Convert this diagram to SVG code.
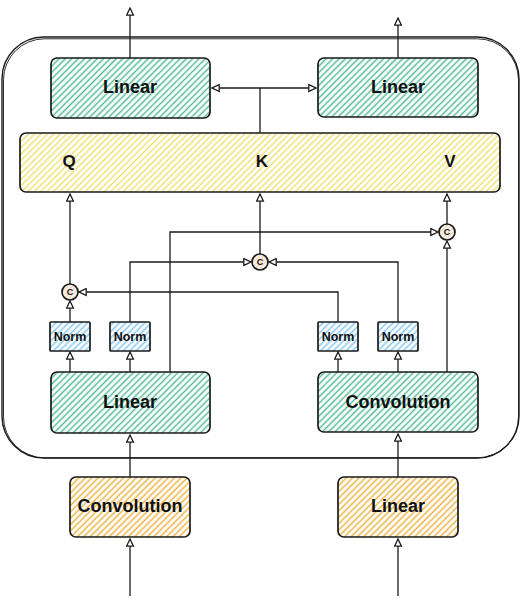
<svg xmlns="http://www.w3.org/2000/svg" width="521" height="606" viewBox="0 0 521 606">
<style>
.box{stroke:#1a1a1a;stroke-width:1.7;}
.lbl{font-family:"Liberation Sans",Arial,sans-serif;font-weight:bold;fill:#111;text-anchor:middle;dominant-baseline:central;}
.big{font-size:18px;}
.qkv{font-size:17px;}
.sm{font-size:12.5px;}
.xs{font-size:9px;}
.wire{fill:none;stroke:#1a1a1a;stroke-width:1.3;}
</style>
<defs>
<pattern id="hg" patternUnits="userSpaceOnUse" width="4.5" height="4.5" patternTransform="rotate(-45)"><rect width="4.5" height="4.5" fill="#fff"/><line x1="0" y1="2.25" x2="4.5" y2="2.25" stroke="#55bc98" stroke-width="1.5"/></pattern>
<pattern id="hy" patternUnits="userSpaceOnUse" width="4.5" height="4.5" patternTransform="rotate(-45)"><rect width="4.5" height="4.5" fill="#fff"/><line x1="0" y1="2.25" x2="4.5" y2="2.25" stroke="#eee06a" stroke-width="1.4"/></pattern>
<pattern id="ho" patternUnits="userSpaceOnUse" width="4.5" height="4.5" patternTransform="rotate(-45)"><rect width="4.5" height="4.5" fill="#fff"/><line x1="0" y1="2.25" x2="4.5" y2="2.25" stroke="#eeb444" stroke-width="1.5"/></pattern>
<pattern id="hb" patternUnits="userSpaceOnUse" width="4.5" height="4.5" patternTransform="rotate(-45)"><rect width="4.5" height="4.5" fill="#fff"/><line x1="0" y1="2.25" x2="4.5" y2="2.25" stroke="#84c8ee" stroke-width="1.5"/></pattern>
<pattern id="hc" patternUnits="userSpaceOnUse" width="3" height="3" patternTransform="rotate(-45)"><rect width="3" height="3" fill="#fff"/><line x1="0" y1="1.5" x2="3" y2="1.5" stroke="#edd2b0" stroke-width="1.4"/></pattern>
<marker id="arr" viewBox="0 0 10 10" refX="9" refY="5" markerWidth="9" markerHeight="9" markerUnits="userSpaceOnUse" orient="auto-start-reverse"><path d="M1,1.2 L9,5 L1,8.8 Z" fill="#fff" stroke="#1a1a1a" stroke-width="1.4"/></marker>
</defs>

<g id="outer">
<rect x="2" y="37" width="517" height="421" rx="42" ry="42" fill="none" stroke="#1a1a1a" stroke-width="1.4"/>
<rect x="3.5" y="38.8" width="515" height="419" rx="41" ry="41" fill="none" stroke="#1a1a1a" stroke-width="0.9"/>
</g>

<g id="connectors">
<path class="wire" d="M130,596 V539" marker-end="url(#arr)"/>
<path class="wire" d="M130,477 V435" marker-end="url(#arr)"/>
<path class="wire" d="M398,596 V539" marker-end="url(#arr)"/>
<path class="wire" d="M398,477 V434" marker-end="url(#arr)"/>
<path class="wire" d="M70,372 V352" marker-end="url(#arr)"/>
<path class="wire" d="M130,372 V352" marker-end="url(#arr)"/>
<path class="wire" d="M338,372 V352" marker-end="url(#arr)"/>
<path class="wire" d="M398,372 V352" marker-end="url(#arr)"/>
<path class="wire" d="M70,322 V301" marker-end="url(#arr)"/>
<path class="wire" d="M130,322 V262 H251" marker-end="url(#arr)"/>
<path class="wire" d="M170,372 V232 H438" marker-end="url(#arr)"/>
<path class="wire" d="M338,322 V292 H79" marker-end="url(#arr)"/>
<path class="wire" d="M398,322 V262 H269" marker-end="url(#arr)"/>
<path class="wire" d="M447,372 V241" marker-end="url(#arr)"/>
<path class="wire" d="M70,284 V194" marker-end="url(#arr)"/>
<path class="wire" d="M260,254 V194" marker-end="url(#arr)"/>
<path class="wire" d="M447,224 V194" marker-end="url(#arr)"/>
<path class="wire" d="M260,133 V88"/>
<path class="wire" d="M260,88 H212" marker-end="url(#arr)"/>
<path class="wire" d="M260,88 H316" marker-end="url(#arr)"/>
<path class="wire" d="M130,58 V8" marker-end="url(#arr)"/>
<path class="wire" d="M398,58 V18" marker-end="url(#arr)"/>
</g>

<g id="linear-top-left">
<rect class="box" x="51" y="58" width="159" height="60" rx="6" fill="url(#hg)"/>
<text class="lbl big" x="130" y="87">Linear</text>
</g>
<g id="linear-top-right">
<rect class="box" x="318" y="58" width="160" height="59" rx="6" fill="url(#hg)"/>
<text class="lbl big" x="398" y="87">Linear</text>
</g>
<g id="qkv">
<rect class="box" x="20" y="133" width="480" height="59" rx="6" fill="url(#hy)"/>
<text class="lbl qkv" x="69" y="161">Q</text>
<text class="lbl qkv" x="262" y="161">K</text>
<text class="lbl qkv" x="450" y="161">V</text>
</g>
<g id="concat-q">
<circle class="box" cx="70" cy="292" r="8" fill="url(#hc)"/>
<text class="lbl xs" x="70" y="292">C</text>
</g>
<g id="concat-k">
<circle class="box" cx="260" cy="262" r="8" fill="url(#hc)"/>
<text class="lbl xs" x="260" y="262">C</text>
</g>
<g id="concat-v">
<circle class="box" cx="447" cy="232" r="8" fill="url(#hc)"/>
<text class="lbl xs" x="447" y="232">C</text>
</g>
<g id="norm1">
<rect class="box" x="50" y="322" width="40" height="29" rx="1" fill="url(#hb)"/>
<text class="lbl sm" x="70" y="336.5">Norm</text>
</g>
<g id="norm2">
<rect class="box" x="110" y="322" width="40" height="29" rx="1" fill="url(#hb)"/>
<text class="lbl sm" x="130" y="336.5">Norm</text>
</g>
<g id="norm3">
<rect class="box" x="318" y="322" width="40" height="29" rx="1" fill="url(#hb)"/>
<text class="lbl sm" x="338" y="336.5">Norm</text>
</g>
<g id="norm4">
<rect class="box" x="378" y="322" width="40" height="29" rx="1" fill="url(#hb)"/>
<text class="lbl sm" x="398" y="336.5">Norm</text>
</g>
<g id="linear-mid">
<rect class="box" x="51" y="372" width="159" height="61" rx="6" fill="url(#hg)"/>
<text class="lbl big" x="130" y="402">Linear</text>
</g>
<g id="conv-mid">
<rect class="box" x="318" y="372" width="160" height="60" rx="6" fill="url(#hg)"/>
<text class="lbl big" x="398" y="402">Convolution</text>
</g>
<g id="conv-bottom">
<rect class="box" x="70" y="477" width="120" height="60" rx="6" fill="url(#ho)"/>
<text class="lbl big" x="130" y="506">Convolution</text>
</g>
<g id="linear-bottom">
<rect class="box" x="338" y="477" width="120" height="60" rx="6" fill="url(#ho)"/>
<text class="lbl big" x="398" y="506">Linear</text>
</g>
</svg>
